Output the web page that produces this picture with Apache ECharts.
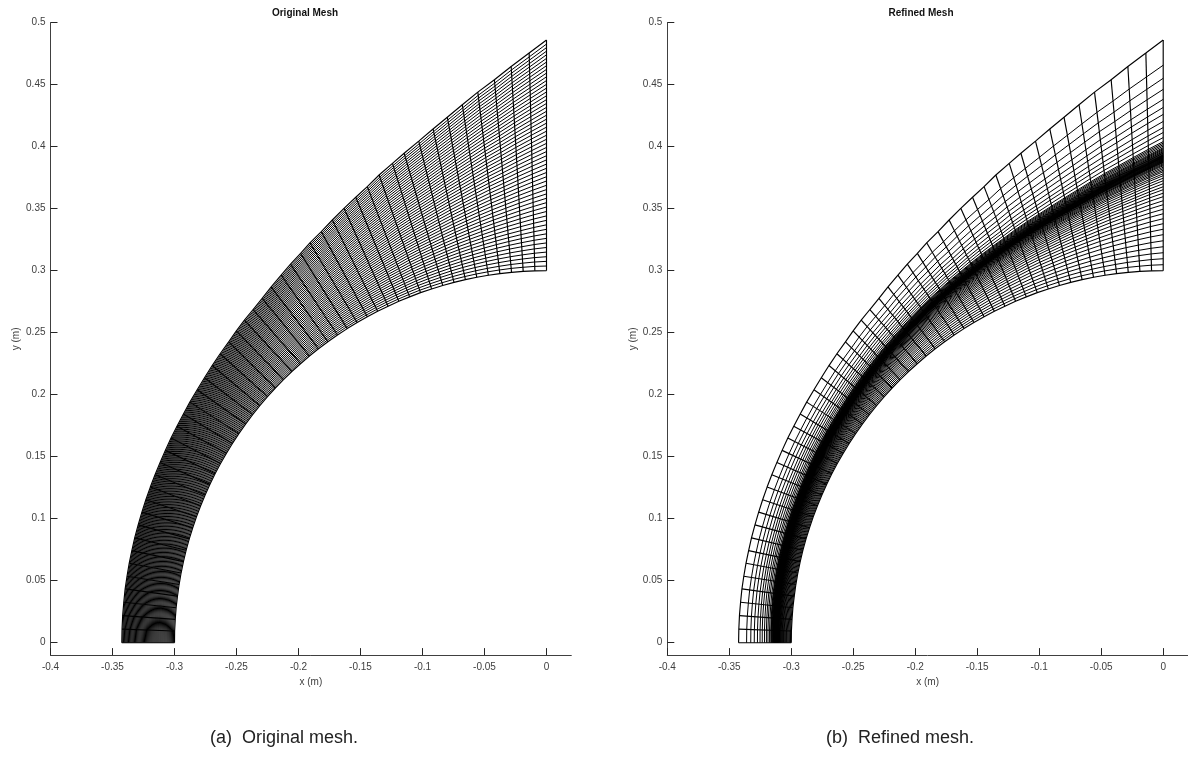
<!DOCTYPE html>
<html><head><meta charset="utf-8">
<style>html,body{margin:0;padding:0;background:#fff}#c{width:1188px;height:766px}</style>
<script src="https://cdn.jsdelivr.net/npm/echarts@6/dist/echarts.min.js"></script>
</head><body><div id="c"></div>
<script>
const xTicks=[-0.4,-0.35,-0.3,-0.25,-0.2,-0.15,-0.1,-0.05,0];
const yTicks=[0,0.05,0.1,0.15,0.2,0.25,0.3,0.35,0.4,0.45,0.5];
const innerX=[-.3,-.2999,-.2994,-.2987,-.2976,-.2963,-.2947,-.2928,-.2906,-.2881,-.2853,-.2823,-.2789,-.2753,-.2714,-.2673,-.2629,-.2582,-.2533,-.2481,-.2427,-.237,-.2312,-.225,-.2187,-.2121,-.2054,-.1984,-.1912,-.1839,-.1763,-.1686,-.1607,-.1527,-.1445,-.1362,-.1277,-.1191,-.1104,-.1016,-.0927,-.0837,-.0746,-.0654,-.0562,-.0469,-.0376,-.0282,-.0188,-.0094,0];
const innerY=[0,.0094,.0188,.0282,.0376,.0469,.0562,.0654,.0746,.0837,.0927,.1016,.1104,.1191,.1277,.1362,.1445,.1527,.1607,.1686,.1763,.1839,.1912,.1984,.2054,.2121,.2187,.225,.2312,.237,.2427,.2481,.2533,.2582,.2629,.2673,.2714,.2753,.2789,.2823,.2853,.2881,.2906,.2928,.2947,.2963,.2976,.2987,.2994,.2999,.3];
const outerX=[-.3425,-.3423,-.3418,-.3409,-.3398,-.3383,-.3365,-.3344,-.3321,-.3293,-.3263,-.3231,-.3195,-.3157,-.3116,-.3074,-.3028,-.298,-.2928,-.2876,-.2817,-.2758,-.2696,-.2632,-.2563,-.2501,-.2436,-.2366,-.2293,-.222,-.214,-.2064,-.1983,-.1908,-.1816,-.1727,-.1633,-.1538,-.1445,-.135,-.1242,-.1148,-.103,-.0915,-.08,-.0679,-.0554,-.042,-.0285,-.014,0];
const outerY=[0,.011,.0218,.0326,.0434,.0536,.0641,.0743,.0845,.095,.1053,.1153,.1255,.1354,.1454,.1551,.165,.1745,.1845,.194,.204,.2137,.2235,.233,.2426,.2515,.2601,.2687,.2776,.287,.2964,.3053,.314,.3225,.3315,.3409,.3503,.3592,.3678,.3772,.3866,.3947,.4045,.4143,.4238,.4338,.444,.454,.4647,.4755,.486];
const originalLevels=[.0203,.0405,.0606,.0807,.1006,.1205,.1402,.1599,.1795,.1989,.2183,.2376,.2568,.276,.2951,.314,.3329,.3516,.3703,.3889,.4074,.4258,.4441,.4623,.4805,.4985,.5165,.5344,.5521,.5698,.5874,.605,.6224,.6398,.657,.6742,.6912,.7082,.7251,.7418,.7585,.7751,.7917,.8081,.8244,.8407,.8568,.8729,.8889,.9047,.9205,.9362,.9518,.9673,.9826];
const bandFraction=[.29,.295,.3,.305,.31,.312,.315,.317,.32,.322,.325,.327,.33,.335,.34,.345,.35,.355,.36,.365,.37,.377,.385,.392,.40,.407,.413,.42,.425,.43,.435,.44,.443,.445,.448,.45,.452,.455,.458,.46,.463,.465,.468,.47,.473,.477,.48,.483,.485,.488,.49];
const aboveBand=[.003,.006,.009,.013,.017,.021,.026,.032,.038,.044,.051,.059,.068,.076,.085,.098,.111,.124,.137,.171,.214,.256,.308,.368,.427,.496,.581,.675,.786];
const belowBand=[.004,.009,.013,.018,.022,.027,.031,.035,.04,.044,.053,.062,.071,.084,.097,.111,.124,.142,.159,.181,.204,.23,.257,.283,.314,.345,.381,.416,.456,.496,.54,.584,.633,.681,.735,.788,.841,.894,.947];
const chartTitles=['Original Mesh','Refined Mesh'];
const captions=['(a)  Original mesh.','(b)  Refined mesh.'];

const stations=innerX.map((_,i)=>i);
const at=(i,f)=>[innerX[i]+f*(outerX[i]-innerX[i]),innerY[i]+f*(outerY[i]-innerY[i])];
const ARC=1,RAD=1.15;
function line(idx,data,w){return{type:'line',xAxisIndex:idx,yAxisIndex:idx,data,symbol:'none',showSymbol:false,silent:true,animation:false,clip:false,lineStyle:{color:'#000',width:w},z:2};}
function mesh(idx,fracFn,levelCount){
  const out=[];
  stations.forEach(i=>out.push(line(idx,[at(i,0),at(i,1)],RAD)));
  out.push(line(idx,stations.map(i=>at(i,0)),RAD));
  out.push(line(idx,stations.map(i=>at(i,1)),RAD));
  for(let k=0;k<levelCount;k++) out.push(line(idx,stations.map(i=>at(i,fracFn(i,k))),ARC));
  return out;
}
const refinedLevels=(i,k)=>{
  const b=bandFraction[i],nb=belowBand.length;
  if(k<nb) return b*(1-belowBand[nb-1-k]);
  if(k===nb) return b;
  return b+(1-b)*aboveBand[k-nb-1];
};
const series=[...mesh(0,(i,k)=>originalLevels[k],originalLevels.length),
              ...mesh(1,refinedLevels,belowBand.length+1+aboveBand.length)];
const lefts=[50.5,667.3];
const axisCol='#404040';
const tk={show:true,inside:true,length:7,lineStyle:{color:'#262626',width:1}};
const lab={color:'#404040',fontFamily:'Liberation Sans',fontSize:10};
const nm={color:'#404040',fontFamily:'Liberation Sans',fontSize:10};
const option={
  animation:false,backgroundColor:'#fff',
  title:[
    {text:chartTitles[0],left:300,top:3,textAlign:'center',textStyle:{fontFamily:'Liberation Sans',fontSize:10,fontWeight:'bold',color:'#111'}},
    {text:chartTitles[1],left:916,top:3,textAlign:'center',textStyle:{fontFamily:'Liberation Sans',fontSize:10,fontWeight:'bold',color:'#111'}},
    {text:captions[0],left:279,top:724,textAlign:'center',textStyle:{fontFamily:'Liberation Sans',fontSize:18,fontWeight:'normal',color:'#222'}},
    {text:captions[1],left:895,top:724,textAlign:'center',textStyle:{fontFamily:'Liberation Sans',fontSize:18,fontWeight:'normal',color:'#222'}}
  ],
  grid:lefts.map(l=>({left:l,top:22.7,width:520.8,height:632.4,containLabel:false,show:false})),
  xAxis:lefts.map((l,i)=>({type:'value',gridIndex:i,min:-0.4,max:0.02,name:'x (m)',nameLocation:'middle',nameGap:21,nameTextStyle:nm,
    axisLine:{show:true,onZero:false,lineStyle:{color:axisCol,width:1}},axisTick:{...tk,customValues:xTicks},axisLabel:{...lab,margin:7,customValues:xTicks},splitLine:{show:false}})),
  yAxis:lefts.map((l,i)=>({type:'value',gridIndex:i,min:-0.01,max:0.5,name:'y (m)',nameLocation:'middle',nameGap:29,nameRotate:90,nameTextStyle:nm,
    axisLine:{show:true,onZero:false,lineStyle:{color:axisCol,width:1}},axisTick:{...tk,customValues:yTicks},axisLabel:{...lab,margin:5,customValues:yTicks},splitLine:{show:false}})),
  series
};
const chart=echarts.init(document.getElementById('c'),null,{renderer:'canvas'});
chart.setOption(option);
</script></body></html>
